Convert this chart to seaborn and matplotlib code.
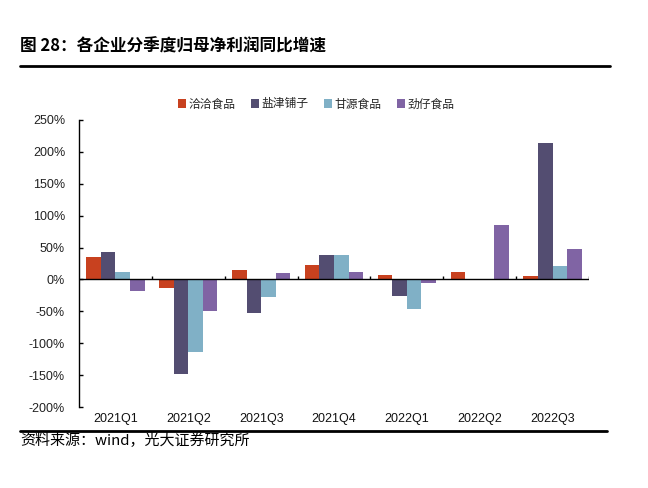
import matplotlib
matplotlib.use("Agg")
import matplotlib.pyplot as plt
import seaborn as sns
import pandas as pd
from matplotlib.lines import Line2D
from matplotlib.patches import Patch

# ---- data ----
quarters = ["2021Q1", "2021Q2", "2021Q3", "2021Q4", "2022Q1", "2022Q2", "2022Q3"]
companies = ["洽洽食品", "盐津铺子", "甘源食品", "劲仔食品"]
qiaqia = [35, -14, 15, 23, 7, 12, 5]
yanjin = [43, -148, -52, 39, -26, 0, 214]
ganyuan = [12, -114, -28, 39, -47, 0, 21]
jinzai = [-18, -49, 10, 12, -6, 85, 47]
yticks = [-200, -150, -100, -50, 0, 50, 100, 150, 200, 250]
title = "图 28：各企业分季度归母净利润同比增速"
source = "资料来源：wind，光大证券研究所"

colors = ["#C8411F", "#534D71", "#80B0C6", "#8064A4"]

rows = []
for comp, vals in zip(companies, [qiaqia, yanjin, ganyuan, jinzai]):
    for q, v in zip(quarters, vals):
        rows.append({"季度": q, "公司": comp, "值": v})
df = pd.DataFrame(rows)

sns.set_theme(style="white")
plt.rcParams["font.family"] = ["Liberation Sans", "Noto Sans CJK SC", "DejaVu Sans"]
cjk = ["Noto Sans CJK SC", "DejaVu Sans"]

fig = plt.figure(figsize=(6.48, 4.88), dpi=100)
ax = fig.add_axes([79 / 648, 1 - 407 / 488, 510 / 648, 287 / 488])

sns.barplot(data=df, x="季度", y="值", hue="公司", order=quarters,
            hue_order=companies, palette=colors, width=0.8,
            linewidth=0, saturation=1, ax=ax, legend=False)

ax.set_ylim(-200, 250)
ax.set_xlim(-0.5, len(quarters) - 0.5)
ax.set_yticks(yticks)
ax.set_yticklabels([f"{v}%" for v in yticks], fontsize=9, color="#222222")
ax.set_xlabel("")
ax.set_ylabel("")
ax.tick_params(axis="y", direction="in", length=3, width=1, color="black", pad=10, left=True)
ax.tick_params(axis="x", length=0, pad=4, labelsize=9, labelcolor="#111111")
for s in ["top", "right", "bottom"]:
    ax.spines[s].set_visible(False)
ax.spines["left"].set_color("black")
ax.spines["left"].set_linewidth(1)

# zero line with category-boundary ticks
ax.axhline(0, color="black", lw=1, zorder=3)
ax.vlines([i + 0.5 for i in range(len(quarters))], 0, 5, color="black", lw=1, zorder=3)

# legend
handles = [Patch(facecolor=c, edgecolor="none") for c in colors]
fig.legend(handles, companies, loc="center", bbox_to_anchor=(316 / 648, 1 - 104 / 488),
           ncol=4, frameon=False, prop={"family": cjk, "size": 8.5},
           handlelength=0.7, handleheight=0.7, handletextpad=0.2, columnspacing=1.3)

# title & rules
fig.text(20 / 648, 1 - 47 / 488, title, family=cjk, fontsize=12, fontweight="bold",
         va="center", ha="left", color="black")
fig.add_artist(Line2D([20 / 648, 610 / 648], [1 - 66 / 488] * 2, color="black", lw=2))
fig.add_artist(Line2D([20 / 648, 607 / 648], [1 - 431 / 488] * 2, color="black", lw=2))
fig.text(20 / 648, 1 - 441 / 488, source, family=cjk, fontsize=10.8, va="center", ha="left",
         color="black")

fig.savefig("out.png", dpi=100)
